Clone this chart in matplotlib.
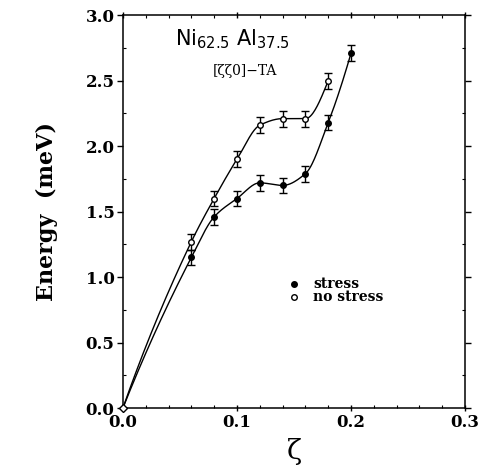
import numpy as np
import matplotlib
matplotlib.use("Agg")
import matplotlib.pyplot as plt
from matplotlib.ticker import MultipleLocator, FormatStrFormatter

# data
zeta_stress = [0.06, 0.08, 0.10, 0.12, 0.14, 0.16, 0.18, 0.20]
e_stress = [1.15, 1.46, 1.60, 1.72, 1.70, 1.79, 2.18, 2.71]
zeta_free = [0.06, 0.08, 0.10, 0.12, 0.14, 0.16, 0.18]
e_free = [1.27, 1.60, 1.90, 2.16, 2.21, 2.21, 2.50]
err = 0.06


def pchip(x, y, n=300):
    """monotone cubic (Fritsch-Carlson) through (x, y)"""
    x = np.asarray(x, float); y = np.asarray(y, float)
    h = np.diff(x); dl = np.diff(y) / h
    k = len(x); m = np.zeros(k)
    for i in range(1, k - 1):
        if dl[i - 1] * dl[i] > 0:
            w1 = 2 * h[i] + h[i - 1]; w2 = h[i] + 2 * h[i - 1]
            m[i] = (w1 + w2) / (w1 / dl[i - 1] + w2 / dl[i])
    m[0] = ((2 * h[0] + h[1]) * dl[0] - h[0] * dl[1]) / (h[0] + h[1])
    m[-1] = ((2 * h[-1] + h[-2]) * dl[-1] - h[-1] * dl[-2]) / (h[-1] + h[-2])
    xs = np.linspace(x[0], x[-1], n)
    idx = np.clip(np.searchsorted(x, xs) - 1, 0, k - 2)
    t = (xs - x[idx]) / h[idx]
    h00 = 2 * t**3 - 3 * t**2 + 1; h10 = t**3 - 2 * t**2 + t
    h01 = -2 * t**3 + 3 * t**2; h11 = t**3 - t**2
    ys = h00 * y[idx] + h10 * h[idx] * m[idx] + h01 * y[idx + 1] + h11 * h[idx] * m[idx + 1]
    return xs, ys


fig = plt.figure(figsize=(4.8, 4.74), dpi=100)
ax = fig.add_axes([0.256, 0.139, 0.713, 0.829])

for xs, ys in (([0] + zeta_stress, [0] + e_stress), ([0] + zeta_free, [0] + e_free)):
    sx, sy = pchip(xs, ys)
    ax.plot(sx, sy, color="k", lw=1.0)

ax.errorbar(zeta_stress, e_stress, yerr=err, fmt="o", ms=4, color="k", mfc="k",
            ecolor="k", elinewidth=1, capsize=3, zorder=3)
ax.errorbar(zeta_free, e_free, yerr=err, fmt="o", ms=4, color="k", mfc="white",
            ecolor="k", elinewidth=1, capsize=3, zorder=3)
ax.plot([0], [0], marker="D", ms=4, mfc="white", mec="k", clip_on=False, zorder=4)

ax.set_xlim(0, 0.3)
ax.set_ylim(0, 3.0)
ax.xaxis.set_major_locator(MultipleLocator(0.1))
ax.xaxis.set_minor_locator(MultipleLocator(0.02))
ax.yaxis.set_major_locator(MultipleLocator(0.5))
ax.yaxis.set_minor_locator(MultipleLocator(0.25))
ax.xaxis.set_major_formatter(FormatStrFormatter("%.1f"))
ax.yaxis.set_major_formatter(FormatStrFormatter("%.1f"))
ax.tick_params(which="major", direction="inout", length=5, width=1, top=True, right=True,
               labelsize=12, pad=2)
ax.tick_params(which="minor", direction="in", length=2.5, width=0.8, top=True, right=True)
ax.tick_params(axis="y", which="major", direction="out", length=4)
ax.tick_params(axis="y", which="both", right=True)
for lab in ax.get_xticklabels() + ax.get_yticklabels():
    lab.set_fontfamily("DejaVu Serif"); lab.set_fontweight("bold")
for s in ax.spines.values():
    s.set_linewidth(1.1)

ax.set_ylabel("Energy  (meV)", fontsize=16, fontweight="bold", family="DejaVu Serif", labelpad=20)
ax.set_xlabel("ζ", fontsize=20, family="DejaVu Serif", labelpad=5)

ax.text(0.096, 2.82, r"Ni$_{62.5}$ Al$_{37.5}$", fontsize=15, ha="center", va="center",
        family="DejaVu Sans")
ax.text(0.107, 2.57, "[ζζ0]−TA", fontsize=10, ha="center", va="center", family="DejaVu Serif")

ax.plot([0.150], [0.95], "o", ms=4, color="k")
ax.plot([0.150], [0.85], "o", ms=4, mfc="white", mec="k")
ax.text(0.167, 0.95, "stress", fontsize=10, fontweight="bold", va="center", family="DejaVu Serif")
ax.text(0.167, 0.85, "no stress", fontsize=10, fontweight="bold", va="center", family="DejaVu Serif")

fig.savefig("out.png", dpi=100)
